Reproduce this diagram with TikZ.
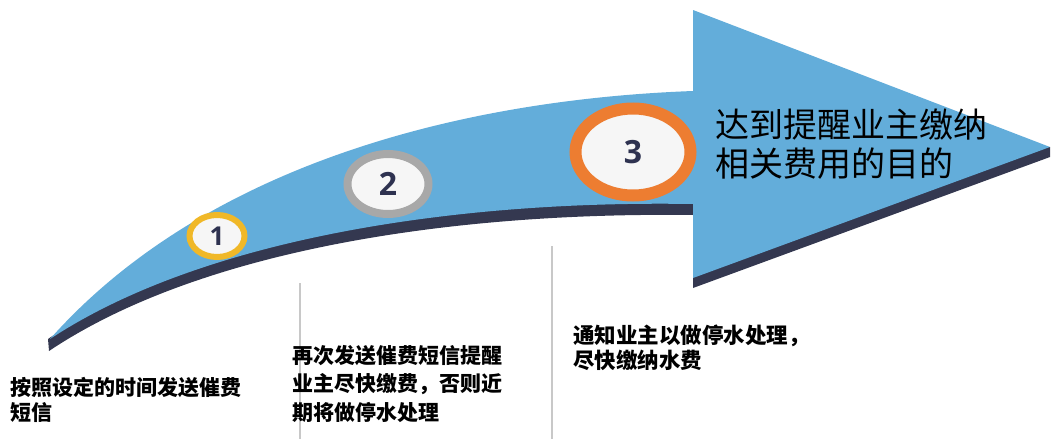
\documentclass[tikz,border=0pt]{standalone}
\usepackage{fontspec}
\newfontfamily\cjk{Noto Sans CJK SC}
\newfontfamily\numfont{Open Sans}
\usetikzlibrary{shapes.geometric,shadows}
\definecolor{arrowblue}{RGB}{99,173,218}
\definecolor{arrowshadow}{RGB}{52,56,80}
\definecolor{ringyellow}{RGB}{240,184,40}
\definecolor{ringgray}{RGB}{168,168,168}
\definecolor{ringorange}{RGB}{237,125,49}
\definecolor{numcolor}{RGB}{46,50,80}
\definecolor{innerwhite}{RGB}{246,246,246}
\definecolor{sepgray}{RGB}{200,200,200}
\tikzset{
  badge/.style={ellipse, inner sep=0pt, fill=innerwhite, text=numcolor,
    font={\numfont\bfseries\fontsize{32}{32}\selectfont},
    drop shadow={opacity=0.25, shadow xshift=1.5pt, shadow yshift=-1.5pt}},
  note/.style={anchor=north west, inner sep=0pt, align=left, text=black},
  smallnote/.style={note, font={\cjk\bfseries\fontsize{21}{25}\selectfont}},
  sepline/.style={draw=sepgray, line width=1.5pt},
}
\begin{document}
\begin{tikzpicture}[x=1pt,y=-1pt]
\useasboundingbox (0,0) rectangle (1058,439);
% shadow of the arrow
\fill[arrowshadow] (49,351) .. controls (200,250) and (450,212) .. (693,215)
  -- (693,288) -- (1050,157) -- (1050,147) -- (693,150) -- (693,200)
  .. controls (450,196) and (200,236) .. (48,339) -- cycle;
% the arrow
\fill[arrowblue] (50,339) .. controls (200,170) and (450,100) .. (693,91)
  -- (693,10) -- (1050,147) -- (693,278) -- (693,204)
  .. controls (450,200) and (200,240) .. (50,339) -- cycle;
% separators
\coordinate (s1top) at (300,283);
\coordinate (s1bot) at (300,439);
\coordinate (s2top) at (552,246);
\coordinate (s2bot) at (552,439);
\draw[sepline] (s1top) -- (s1bot);
\draw[sepline] (s2top) -- (s2bot);
% badges
\node[badge, draw=ringyellow, line width=6pt, minimum width=55pt, minimum height=42pt,
  font={\numfont\bfseries\fontsize{26}{26}\selectfont}] (b1) at (217,236) {1};
\node[badge, draw=ringgray, line width=8pt, minimum width=81pt, minimum height=60pt] (b2) at (388,184) {2};
\node[badge, draw=ringorange, line width=12pt, minimum width=115pt, minimum height=87pt] (b3) at (633,152) {3};
% texts
\node[note, font={\cjk\fontsize{34}{39}\selectfont}] (goal) at (715,109) {达到提醒业主缴纳\\相关费用的目的};
\node[smallnote] (t1) at (10,377) {按照设定的时间发送催费\\短信};
\node[smallnote, font={\cjk\bfseries\fontsize{21}{28.5}\selectfont}] (t2) at (292,345) {再次发送催费短信提醒\\业主尽快缴费，否则近\\期将做停水处理};
\node[smallnote, font={\cjk\bfseries\fontsize{21.5}{25}\selectfont}] (t3) at (573,325) {通知业主以做停水处理，\\尽快缴纳水费};
\end{tikzpicture}
\end{document}
